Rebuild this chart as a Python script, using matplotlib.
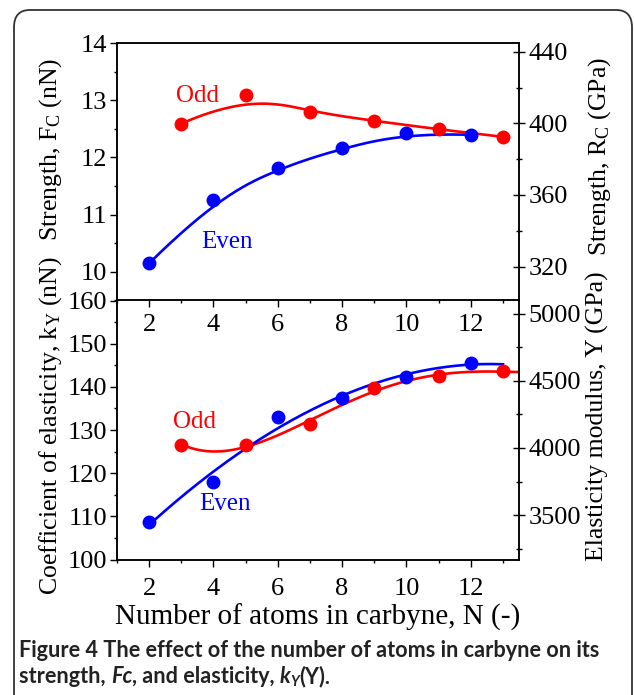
import numpy as np
import matplotlib
matplotlib.use("Agg")
import matplotlib.pyplot as plt
from matplotlib.patches import FancyBboxPatch
from matplotlib.ticker import MultipleLocator

plt.rcParams['font.family'] = ['Liberation Serif', 'DejaVu Serif']
plt.rcParams['mathtext.fontset'] = 'custom'
plt.rcParams['mathtext.rm'] = 'Liberation Serif'
plt.rcParams['mathtext.it'] = 'Liberation Serif:italic'

# ---- data ----
n_odd = [3, 5, 7, 9, 11, 13]
n_even = [2, 4, 6, 8, 10, 12]
fc_odd = [12.59, 13.085, 12.795, 12.64, 12.49, 12.36]
fc_even = [10.15, 11.26, 11.815, 12.16, 12.43, 12.395]
ky_odd = [126.6, 126.5, 131.4, 139.8, 142.4, 143.6]
ky_even = [108.7, 118.0, 133.1, 137.3, 142.2, 145.5]

RED = '#ff0000'
BLUE = '#0000ff'

W, H = 634, 695
fig = plt.figure(figsize=(W / 100, H / 100), dpi=100)
fig.patch.set_facecolor('white')

# rounded frame
frame = FancyBboxPatch((14 / W, 1 - 800 / H), 618 / W, 790 / H,
                       boxstyle="round,pad=0,rounding_size=0.025",
                       transform=fig.transFigure, facecolor='none',
                       edgecolor='#333333', linewidth=1.3, clip_on=False)
fig.patches.append(frame)

L, R = 117, 519
ax1 = fig.add_axes([L / W, 1 - 300.5 / H, (R - L) / W, (300.5 - 43) / H])
ax2 = fig.add_axes([L / W, 1 - 559.5 / H, (R - L) / W, (559.5 - 300.5) / H])
ax2.patch.set_visible(False)

TFS = 19
LFS = 18.5
MS = 9


def bspline_curve(x, y, k=3, n=300):
    """Clamped cubic B-spline smoothing curve using the data points as control points."""
    P = np.column_stack([x, y]).astype(float)
    m = len(P)
    inner = list(range(1, m - k))
    t = np.array([0] * (k + 1) + inner + [m - k] * (k + 1), dtype=float)
    u = np.linspace(0, m - k, n)
    u[-1] -= 1e-9

    def N(i, d):
        if d == 0:
            return ((t[i] <= u) & (u < t[i + 1])).astype(float)
        a = np.zeros_like(u)
        b = np.zeros_like(u)
        if t[i + d] != t[i]:
            a = (u - t[i]) / (t[i + d] - t[i]) * N(i, d - 1)
        if t[i + d + 1] != t[i + 1]:
            b = (t[i + d + 1] - u) / (t[i + d + 1] - t[i + 1]) * N(i + 1, d - 1)
        return a + b

    B = np.array([N(i, k) for i in range(m)])
    C = B.T @ P
    return C[:, 0], C[:, 1]


def fit_curve(x, y, deg, x0, x1):
    c = np.polyfit(x, y, deg)
    xs = np.linspace(x0, x1, 200)
    return xs, np.polyval(c, xs)

# ---- top panel ----
xs, ys = bspline_curve(n_odd, fc_odd)
ax1.plot(xs, ys, color=RED, lw=1.9, zorder=2)
xs, ys = bspline_curve(n_even, fc_even)
ax1.plot(xs, ys, color=BLUE, lw=1.9, zorder=2)
ax1.plot(n_odd, fc_odd, 'o', color=RED, ms=MS, zorder=3)
ax1.plot(n_even, fc_even, 'o', color=BLUE, ms=MS, zorder=3)
ax1.text(2.82, 12.97, 'Odd', color=RED, fontsize=18)
ax1.text(3.63, 10.41, 'Even', color=BLUE, fontsize=18)

ax1.set_xlim(1, 13.5)
ax1.set_ylim(9.5, 14)
ax1.set_xticks([2, 4, 6, 8, 10, 12])
ax1.xaxis.set_minor_locator(MultipleLocator(1))
ax1.set_yticks([10, 11, 12, 13, 14])
ax1.yaxis.set_minor_locator(MultipleLocator(0.5))
ax1.tick_params(axis='both', which='major', direction='out', length=5, width=1, labelsize=TFS, pad=2)
ax1.tick_params(axis='both', which='minor', direction='out', length=2.5, width=1)
ax1.tick_params(axis='x', which='major', pad=4.5)
ax1.tick_params(top=False, right=False, which='both')
ax1.set_ylabel(r'Strength, F$_\mathrm{C}$ (nN)', fontsize=LFS)
ax1.yaxis.set_label_coords(-0.131, 0.585)

ax1r = ax1.twinx()
ax1r.set_ylim(301, 445)
ax1r.set_yticks([320, 360, 400, 440])
ax1r.yaxis.set_minor_locator(MultipleLocator(20))
ax1r.tick_params(axis='y', which='major', direction='inout', length=8, width=1, labelsize=TFS, pad=3)
ax1r.tick_params(axis='y', which='minor', direction='inout', length=5, width=1)
ax1r.set_ylabel(r'Strength, R$_\mathrm{C}$ (GPa)', fontsize=LFS, rotation=90)
ax1r.yaxis.set_label_coords(1.167, 0.56)

# ---- bottom panel ----
xs, ys = fit_curve(n_odd, ky_odd, 4, 3, 13.5)
ax2.plot(xs, ys, color=RED, lw=1.9, zorder=2)
xs, ys = fit_curve(n_even, ky_even, 3, 2.2, 13)
ax2.plot(xs, ys, color=BLUE, lw=1.9, zorder=2)
ax2.plot(n_odd, ky_odd, 'o', color=RED, ms=MS, zorder=3)
ax2.plot(n_even, ky_even, 'o', color=BLUE, ms=MS, zorder=3)
ax2.text(2.73, 130.4, 'Odd', color=RED, fontsize=18)
ax2.text(3.57, 111.4, 'Even', color=BLUE, fontsize=18)

ax2.set_xlim(1, 13.5)
ax2.set_ylim(100, 160)
ax2.set_xticks([2, 4, 6, 8, 10, 12])
ax2.xaxis.set_minor_locator(MultipleLocator(1))
ax2.set_yticks([100, 110, 120, 130, 140, 150, 160])
ax2.yaxis.set_minor_locator(MultipleLocator(5))
ax2.tick_params(axis='both', which='major', direction='out', length=5, width=1, labelsize=TFS, pad=2)
ax2.tick_params(axis='both', which='minor', direction='out', length=2.5, width=1)
ax2.tick_params(axis='x', which='major', pad=8)
ax2.tick_params(top=False, right=False, which='both')
ax2.spines['top'].set_visible(False)
ax2.set_ylabel(r'Coefficient of elasticity, k$_\mathrm{Y}$ (nN)', fontsize=LFS)
ax2.yaxis.set_label_coords(-0.131, 0.515)
ax2.set_xlabel('Number of atoms in carbyne, N (-)', fontsize=21, labelpad=3)

ax2r = ax2.twinx()
ax2r.patch.set_visible(False)
ax2r.set_ylim(3170, 5097)
ax2r.set_yticks([3500, 4000, 4500, 5000])
ax2r.yaxis.set_minor_locator(MultipleLocator(250))
ax2r.tick_params(axis='y', which='major', direction='inout', length=8, width=1, labelsize=TFS, pad=3)
ax2r.tick_params(axis='y', which='minor', direction='inout', length=5, width=1)
ax2r.spines['top'].set_visible(False)
ax2r.set_ylabel('Elasticity modulus, Y (GPa)', fontsize=LFS)
ax2r.yaxis.set_label_coords(1.167, 0.555)

for a in (ax1, ax2, ax1r, ax2r):
    for s in a.spines.values():
        s.set_linewidth(1.1)

# ---- caption ----
cap_font = 'Lato'
cfs = 15.6
renderer = fig.canvas.get_renderer()

def put(x, y, s, **kw):
    t = fig.text(x, y, s, transform=None, fontfamily=cap_font, fontsize=kw.pop('fs', cfs),
                 fontweight='bold', color='#222222', va='baseline', ha='left', **kw)
    bb = t.get_window_extent(renderer)
    return x + bb.width

y1 = H - 657
y2 = H - 683
put(19, y1, 'Figure 4 The effect of the number of atoms in carbyne on its')
x = put(19, y2, 'strength, ')
x = put(x, y2, 'Fc', style='italic')
x = put(x, y2, ', and elasticity, ')
x = put(x, y2, 'k', style='italic')
x = put(x, y2 - 3, 'Y', style='italic', fs=10.5)
x = put(x, y2, '(Y).')

fig.savefig('out.png', dpi=100)
